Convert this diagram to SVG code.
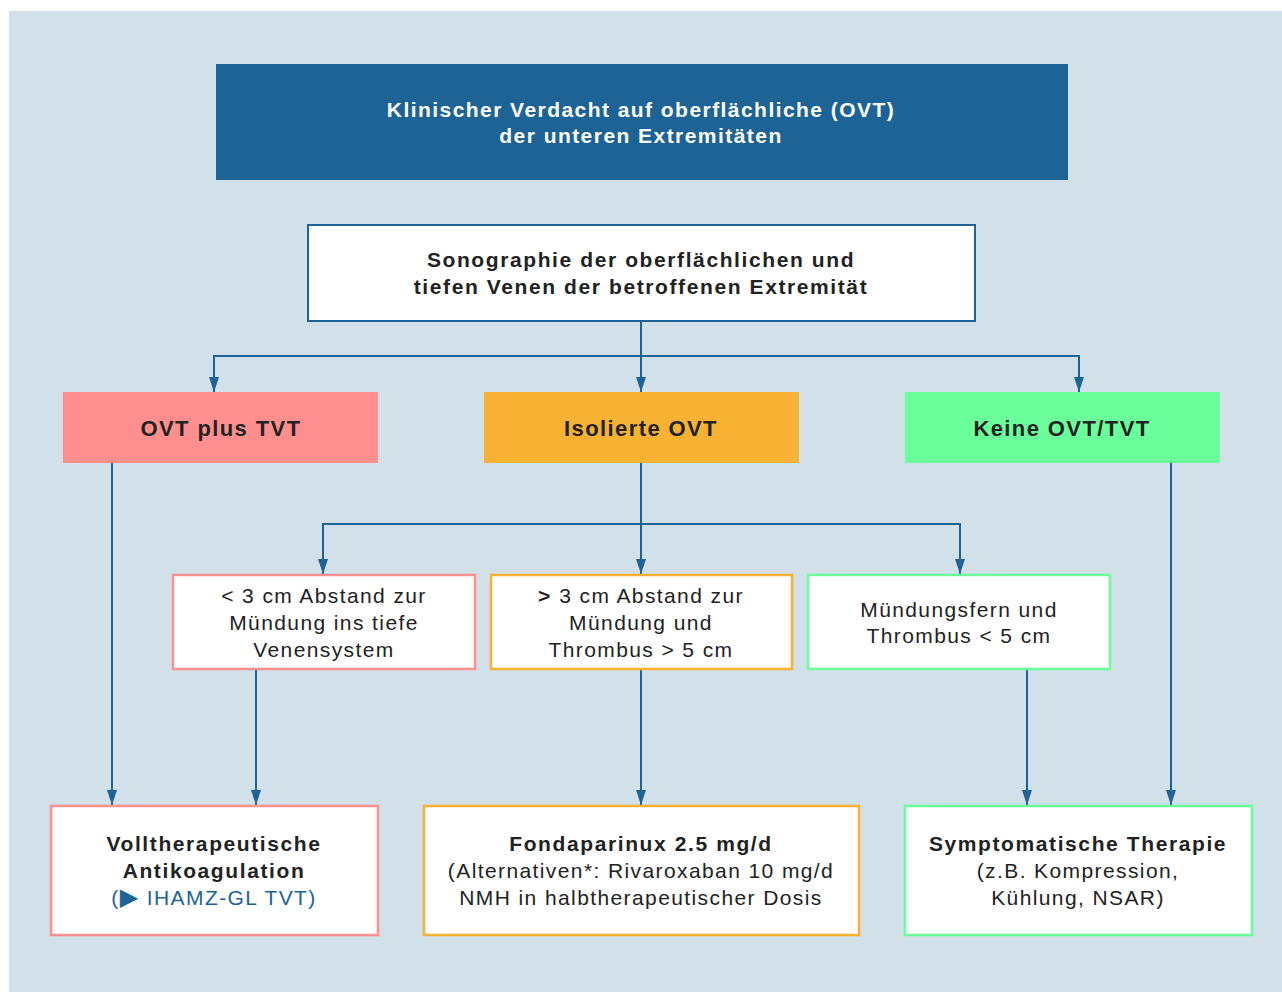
<svg xmlns="http://www.w3.org/2000/svg" width="1282" height="992" viewBox="0 0 1282 992">
<style>
.t{font-family:"Liberation Sans",Arial,sans-serif;font-size:21px;fill:#222;text-anchor:middle;letter-spacing:1.4px}
.b{font-weight:bold;letter-spacing:1.6px}
.w{fill:#fff;letter-spacing:1.45px}
.h{font-size:22px;letter-spacing:1.4px}
.ln{fill:none;stroke:#1e6395;stroke-width:2}
.box{fill:#fff;stroke-width:2.5}
</style>
<rect x="9" y="11" width="1273" height="981" fill="#d2e0e9"/>
<g id="connectors">
<path class="ln" d="M641,321 V392"/>
<path class="ln" d="M641,356 H214 V392"/>
<path class="ln" d="M641,356 H1079 V392"/>
<path class="ln" d="M641,463 V574"/>
<path class="ln" d="M641,524 H323 V574"/>
<path class="ln" d="M641,524 H960 V574"/>
<path class="ln" d="M112,463 V805"/>
<path class="ln" d="M256,670 V805"/>
<path class="ln" d="M641,670 V805"/>
<path class="ln" d="M1027,670 V805"/>
<path class="ln" d="M1171,463 V805"/>
<g fill="#1e6395">
<path d="M209,377 L219,377 L214,392 Z"/>
<path d="M636,377 L646,377 L641,392 Z"/>
<path d="M1074,377 L1084,377 L1079,392 Z"/>
<path d="M318,559 L328,559 L323,574 Z"/>
<path d="M636,559 L646,559 L641,574 Z"/>
<path d="M955,559 L965,559 L960,574 Z"/>
<path d="M107,790 L117,790 L112,805 Z"/>
<path d="M251,790 L261,790 L256,805 Z"/>
<path d="M636,790 L646,790 L641,805 Z"/>
<path d="M1022,790 L1032,790 L1027,805 Z"/>
<path d="M1166,790 L1176,790 L1171,805 Z"/>
</g>
</g>
<g id="n-verdacht">
<rect x="216" y="64" width="852" height="116" fill="#1e6395"/>
<text class="t b w" x="641" y="117">Klinischer Verdacht auf oberflächliche (OVT)</text>
<text class="t b w" x="641" y="143">der unteren Extremitäten</text>
</g>
<g id="n-sono">
<rect x="308" y="225" width="667" height="96" fill="#fff" stroke="#1e6395" stroke-width="2"/>
<text class="t b" x="641" y="267">Sonographie der oberflächlichen und</text>
<text class="t b" x="641" y="294">tiefen Venen der betroffenen Extremität</text>
</g>
<g id="n-ovt-tvt">
<rect x="63" y="392" width="315" height="71" fill="#ff8f8f"/>
<text class="t b h" x="221" y="436">OVT plus TVT</text>
</g>
<g id="n-isoliert">
<rect x="484" y="392" width="315" height="71" fill="#f7b133"/>
<text class="t b h" x="641" y="436">Isolierte OVT</text>
</g>
<g id="n-keine">
<rect x="905" y="392" width="315" height="71" fill="#6aff9a"/>
<text class="t b h" x="1062" y="436">Keine OVT/TVT</text>
</g>
<g id="n-lt3">
<rect class="box" x="173" y="575" width="302" height="94" stroke="#ff9090"/>
<text class="t" x="324" y="603">&lt; 3 cm Abstand zur</text>
<text class="t" x="324" y="630">Mündung ins tiefe</text>
<text class="t" x="324" y="657">Venensystem</text>
</g>
<g id="n-gt3">
<rect class="box" x="491" y="575" width="301" height="94" stroke="#f7b133"/>
<text class="t" x="641" y="603"><tspan class="b">&gt;</tspan> 3 cm Abstand zur</text>
<text class="t" x="641" y="630">Mündung und</text>
<text class="t" x="641" y="657">Thrombus &gt; 5 cm</text>
</g>
<g id="n-fern">
<rect class="box" x="808" y="575" width="302" height="94" stroke="#6aff9a"/>
<text class="t" x="959" y="617">Mündungsfern und</text>
<text class="t" x="959" y="643">Thrombus &lt; 5 cm</text>
</g>
<g id="n-voll">
<rect class="box" x="51" y="806" width="327" height="129" stroke="#ff9090"/>
<text class="t b" x="214" y="851">Volltherapeutische</text>
<text class="t b" x="214" y="878">Antikoagulation</text>
<text class="t" x="214" y="905" style="fill:#1e6395">(<tspan style="font-family:'DejaVu Sans',sans-serif;font-size:24px">▶</tspan> IHAMZ-GL TVT)</text>
</g>
<g id="n-fonda">
<rect class="box" x="424" y="806" width="435" height="129" stroke="#f7b133"/>
<text class="t b" x="641" y="851">Fondaparinux 2.5 mg/d</text>
<text class="t" x="641" y="878">(Alternativen*: Rivaroxaban 10 mg/d</text>
<text class="t" x="641" y="905">NMH in halbtherapeutischer Dosis</text>
</g>
<g id="n-sympt">
<rect class="box" x="905" y="806" width="347" height="129" stroke="#6aff9a"/>
<text class="t b" x="1078" y="851">Symptomatische Therapie</text>
<text class="t" x="1078" y="878">(z.B. Kompression,</text>
<text class="t" x="1078" y="905">Kühlung, NSAR)</text>
</g>
</svg>
